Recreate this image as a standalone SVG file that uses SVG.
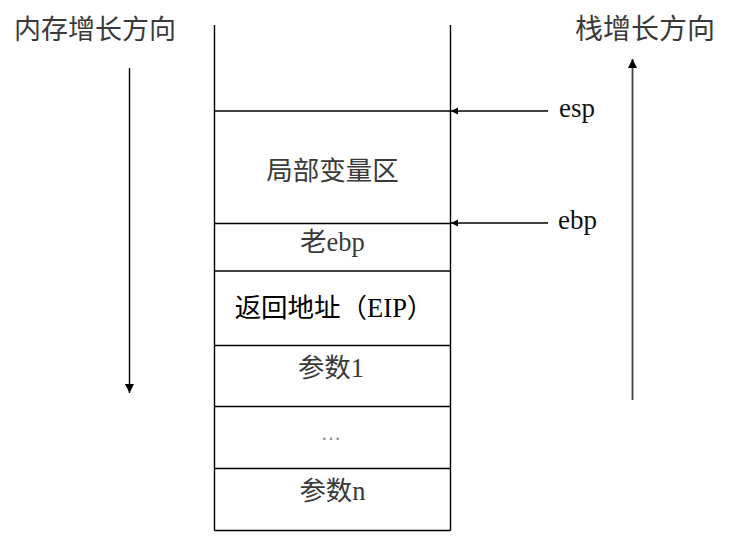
<svg xmlns="http://www.w3.org/2000/svg" width="731" height="558" viewBox="0 0 731 558">
<style>
.cell{fill:none;stroke:#000;stroke-width:1.4}
.cjk{font-family:"Noto Sans CJK SC","Noto Sans CJK JP",sans-serif;font-size:26.5px;fill:#3a3a3a}
.lbl{font-family:"Liberation Serif","Noto Sans CJK SC",serif;font-size:26.5px;fill:#3a3a3a;text-anchor:middle}
.reg{font-family:"Liberation Serif",serif;font-size:27px;fill:#111}
.conn{stroke:#000;stroke-width:1.4;fill:none}
</style>
<defs>
<marker id="hs" markerUnits="userSpaceOnUse" markerWidth="8" markerHeight="8" refX="7" refY="3.5" orient="auto">
<path d="M0,0 L7,3.5 L0,7 z" fill="#000"/>
</marker>
<marker id="hl" markerUnits="userSpaceOnUse" markerWidth="10" markerHeight="10" refX="9" refY="4.5" orient="auto">
<path d="M0,0 L9,4.5 L0,9 z" fill="#000"/>
</marker>
</defs>
<rect width="731" height="558" fill="#fff"/>
<g id="stack">
<line class="cell" x1="214.5" y1="25" x2="214.5" y2="530.5"/>
<line class="cell" x1="450.5" y1="25" x2="450.5" y2="530.5"/>
</g>
<g id="locals">
<line class="cell" x1="214.5" y1="111" x2="450.5" y2="111"/>
<text class="lbl" x="332.5" y="180">局部变量区</text>
</g>
<g id="old-ebp">
<line class="cell" x1="214.5" y1="223.5" x2="450.5" y2="223.5"/>
<text class="lbl" x="332.5" y="251">老ebp</text>
</g>
<g id="ret-addr">
<line class="cell" x1="214.5" y1="271" x2="450.5" y2="271"/>
<text class="lbl" x="334" y="317" style="fill:#000">返回地址（EIP）</text>
</g>
<g id="param1">
<line class="cell" x1="214.5" y1="345.5" x2="450.5" y2="345.5"/>
<text class="lbl" x="331" y="377">参数1</text>
</g>
<g id="ellipsis">
<line class="cell" x1="214.5" y1="406.5" x2="450.5" y2="406.5"/>
<text class="lbl" x="331" y="440" style="font-size:20px;fill:#888">…</text>
</g>
<g id="paramn">
<line class="cell" x1="214.5" y1="468.5" x2="450.5" y2="468.5"/>
<line class="cell" x1="214.5" y1="530.5" x2="450.5" y2="530.5"/>
<text class="lbl" x="332.5" y="500">参数n</text>
</g>
<g id="mem-dir">
<text class="cjk" x="14" y="39" style="font-size:27px">内存增长方向</text>
</g>
<g id="stack-dir">
<text class="cjk" x="575" y="39" style="font-size:28px">栈增长方向</text>
</g>
<g id="esp">
<text class="reg" x="559" y="117">esp</text>
</g>
<g id="ebp">
<text class="reg" x="558" y="229">ebp</text>
</g>
<g id="connectors">
<line class="conn" x1="548" y1="111" x2="451" y2="111" marker-end="url(#hs)"/>
<line class="conn" x1="548" y1="223" x2="451" y2="223" marker-end="url(#hs)"/>
<line class="conn" x1="129.5" y1="68" x2="129.5" y2="393" marker-end="url(#hl)"/>
<line class="conn" x1="632.5" y1="400" x2="632.5" y2="59" marker-end="url(#hl)" style="stroke:#444;stroke-width:1.8"/>
</g>
</svg>
